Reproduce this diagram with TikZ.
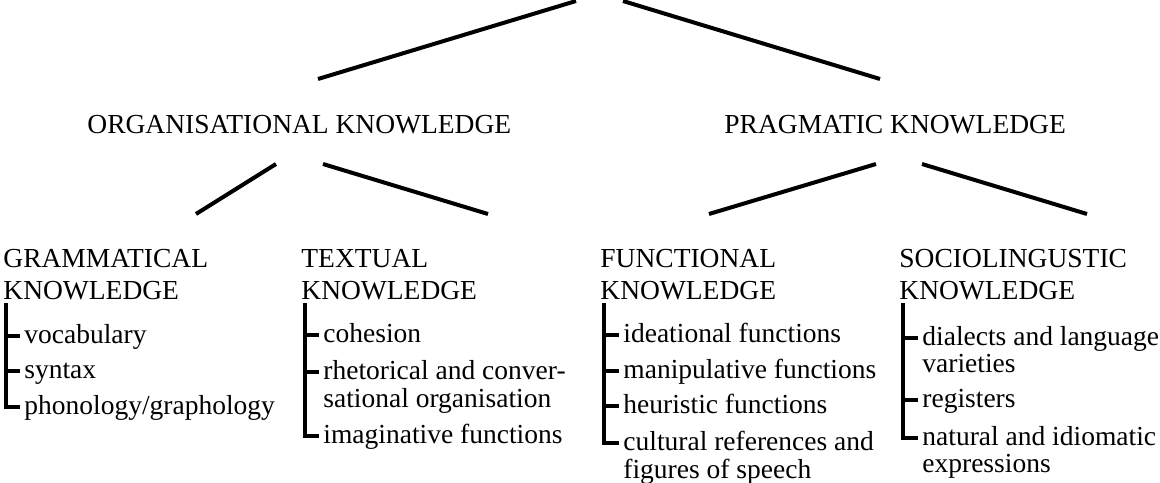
\documentclass[tikz,border=0pt]{standalone}
\usepackage{fontspec}
\setmainfont{Liberation Serif}
\usetikzlibrary{calc}
\begin{document}
\begin{tikzpicture}[x=0.5pt,y=-0.5pt,
  txt/.style={font=\fontsize{13.75}{16}\selectfont, inner sep=0pt, anchor=base west},
  ln/.style={line width=2pt},
  br/.style={line width=2pt, line join=miter}]
\useasboundingbox (0,0) rectangle (1160,482);
% level 1
\node[txt] (org) at (87,133) {ORGANISATIONAL KNOWLEDGE};
\node[txt] (prag) at (724,133) {PRAGMATIC KNOWLEDGE};
\coordinate (rootL) at (576,1);
\coordinate (rootR) at (623,1);
\coordinate (orgT) at (318,79);
\coordinate (pragT) at (880,79);
\draw[ln] (rootL) -- (orgT);
\draw[ln] (rootR) -- (pragT);
% level 2 connectors
\coordinate (orgBL) at (276,164);
\coordinate (orgBR) at (323,164);
\coordinate (pragBL) at (876,164);
\coordinate (pragBR) at (922,164);
\coordinate (gramT) at (196,214);
\coordinate (textT) at (488,214);
\coordinate (funcT) at (709,214);
\coordinate (socT) at (1087,214);
\draw[ln] (orgBL) -- (gramT);
\draw[ln] (orgBR) -- (textT);
\draw[ln] (pragBL) -- (funcT);
\draw[ln] (pragBR) -- (socT);
% column 1
\node[txt] (g0a) at (3,267) {GRAMMATICAL};
\node[txt] (g0b) at (3,299) {KNOWLEDGE};
\node[txt] (g1) at (24,343) {vocabulary};
\node[txt] (g2) at (24,378) {syntax};
\node[txt] (g3) at (24,414) {phonology/graphology};
\coordinate (gb) at (6,303);
\draw[br] (gb) |- ($(g3.base west)+(-4,-7)$);
\draw[br] ($(gb|-g1.base)+(0,-7)$) -- ($(g1.base west)+(-4,-7)$);
\draw[br] ($(gb|-g2.base)+(0,-7)$) -- ($(g2.base west)+(-4,-7)$);
% column 2
\node[txt] (t0a) at (301,267) {TEXTUAL};
\node[txt] (t0b) at (301,299) {KNOWLEDGE};
\node[txt] (t1) at (323,342) {cohesion};
\node[txt] (t2) at (323,379) {rhetorical and conver-};
\node[txt] (t2b) at (323,407) {sational organisation};
\node[txt] (t3) at (323,443) {imaginative functions};
\coordinate (tb) at (305,303);
\draw[br] (tb) |- ($(t3.base west)+(-4,-7)$);
\draw[br] ($(tb|-t1.base)+(0,-7)$) -- ($(t1.base west)+(-4,-7)$);
\draw[br] ($(tb|-t2.base)+(0,-7)$) -- ($(t2.base west)+(-4,-7)$);
% column 3
\node[txt] (f0a) at (600,267) {FUNCTIONAL};
\node[txt] (f0b) at (600,299) {KNOWLEDGE};
\node[txt] (f1) at (623,342) {ideational functions};
\node[txt] (f2) at (623,378) {manipulative functions};
\node[txt] (f3) at (623,413) {heuristic functions};
\node[txt] (f4) at (623,450) {cultural references and};
\node[txt] (f4b) at (623,478) {figures of speech};
\coordinate (fb) at (604,303);
\draw[br] (fb) |- ($(f4.base west)+(-4,-7)$);
\draw[br] ($(fb|-f1.base)+(0,-7)$) -- ($(f1.base west)+(-4,-7)$);
\draw[br] ($(fb|-f2.base)+(0,-7)$) -- ($(f2.base west)+(-4,-7)$);
\draw[br] ($(fb|-f3.base)+(0,-7)$) -- ($(f3.base west)+(-4,-7)$);
% column 4
\node[txt] (s0a) at (899,267) {SOCIOLINGUSTIC};
\node[txt] (s0b) at (899,299) {KNOWLEDGE};
\node[txt] (s1) at (922,345) {dialects and language};
\node[txt] (s1b) at (922,372) {varieties};
\node[txt] (s2) at (922,407) {registers};
\node[txt] (s3) at (922,445) {natural and idiomatic};
\node[txt] (s3b) at (922,472) {expressions};
\coordinate (sb) at (903,303);
\draw[br] (sb) |- ($(s3.base west)+(-4,-7)$);
\draw[br] ($(sb|-s1.base)+(0,-7)$) -- ($(s1.base west)+(-4,-7)$);
\draw[br] ($(sb|-s2.base)+(0,-7)$) -- ($(s2.base west)+(-4,-7)$);
\end{tikzpicture}
\end{document}
